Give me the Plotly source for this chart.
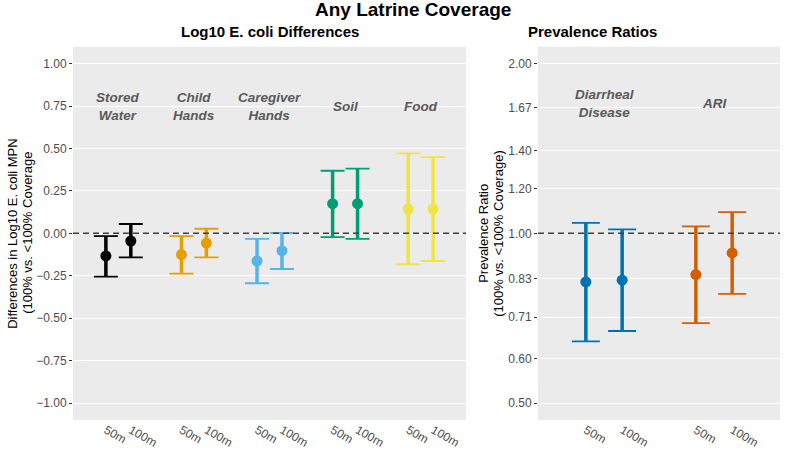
import numpy as np
import plotly.graph_objects as go

# ---------------- data ----------------
left_categories = ["Stored<br>Water", "Child<br>Hands", "Caregiver<br>Hands", "Soil", "Food"]
left_colors = ["#000000", "#E69F00", "#56B4E9", "#009E73", "#F0E442"]
left_est_50 = [-0.133, -0.125, -0.163, 0.175, 0.143]
left_lo_50 = [-0.255, -0.237, -0.294, -0.022, -0.182]
left_hi_50 = [-0.016, -0.016, -0.033, 0.369, 0.471]
left_est_100 = [-0.045, -0.057, -0.102, 0.175, 0.143]
left_lo_100 = [-0.141, -0.141, -0.210, -0.033, -0.163]
left_hi_100 = [0.055, 0.027, 0.002, 0.382, 0.449]

right_categories = ["Diarrheal<br>Disease", "ARI"]
right_colors = ["#0072B2", "#D55E00"]
right_est_50 = [0.820, 0.845]
right_lo_50 = [0.643, 0.693]
right_hi_50 = [1.044, 1.029]
right_est_100 = [0.826, 0.923]
right_lo_100 = [0.671, 0.781]
right_hi_100 = [1.016, 1.091]

distance_labels = ["50m", "100m"]
left_yticks = [-1.0, -0.75, -0.5, -0.25, 0.0, 0.25, 0.5, 0.75, 1.0]
right_yticks = [0.5, 0.6, 0.71, 0.83, 1.0, 1.2, 1.4, 1.67, 2.0]
right_yticktext = ["0.50", "0.60", "0.71", "0.83", "1.00", "1.20", "1.40", "1.67", "2.00"]
left_ref = 0.0
right_ref = 1.0
left_label_y = 0.75
right_label_y = 1.7

# ---------------- style ----------------
FONT = "Liberation Sans, Arial, sans-serif"
OFF = 0.165
W, H = 787, 470
PANEL_BG = "#EBEBEB"
TICK_COL = "#4D4D4D"

fig = go.Figure()


def add_group(xc, est50, lo50, hi50, est100, lo100, hi100, color, xa, ya, cap):
    xs = [xc - OFF, xc + OFF]
    ys = [est50, est100]
    plus = [hi50 - est50, hi100 - est100]
    minus = [est50 - lo50, est100 - lo100]
    # thick vertical segment
    fig.add_trace(go.Scatter(
        x=xs, y=ys, mode="markers", marker=dict(size=1, color=color, opacity=0),
        error_y=dict(type="data", symmetric=False, array=plus, arrayminus=minus,
                     color=color, thickness=3.5, width=0),
        xaxis=xa, yaxis=ya, showlegend=False, hoverinfo="skip"))
    # caps + points
    fig.add_trace(go.Scatter(
        x=xs, y=ys, mode="markers", marker=dict(size=11, color=color),
        error_y=dict(type="data", symmetric=False, array=plus, arrayminus=minus,
                     color=color, thickness=1.8, width=cap),
        xaxis=xa, yaxis=ya, showlegend=False))


for i in range(len(left_categories)):
    add_group(i + 1, left_est_50[i], left_lo_50[i], left_hi_50[i],
              left_est_100[i], left_lo_100[i], left_hi_100[i],
              left_colors[i], "x", "y", 12)

for i in range(len(right_categories)):
    add_group(i + 1, right_est_50[i], right_lo_50[i], right_hi_50[i],
              right_est_100[i], right_lo_100[i], right_hi_100[i],
              right_colors[i], "x2", "y2", 14)

left_tickvals, left_ticktext = [], []
for i in range(len(left_categories)):
    left_tickvals += [i + 1 - OFF, i + 1 + OFF]
    left_ticktext += distance_labels
right_tickvals, right_ticktext = [], []
for i in range(len(right_categories)):
    right_tickvals += [i + 1 - OFF, i + 1 + OFF]
    right_ticktext += distance_labels

ydom = [(H - 420) / H, (H - 46.7) / H]
common_x = dict(showgrid=False, zeroline=False, ticks="", tickangle=30,
                tickfont=dict(family=FONT, size=12, color=TICK_COL), showline=False)
common_y = dict(showgrid=True, gridcolor="white", gridwidth=1.1, zeroline=False,
                ticks="outside", ticklen=3, tickcolor="#333333", tickwidth=1,
                tickfont=dict(family=FONT, size=12, color=TICK_COL), showline=False)

fig.update_layout(
    width=W, height=H,
    margin=dict(l=0, r=0, t=0, b=0),
    paper_bgcolor="white", plot_bgcolor=PANEL_BG,
    xaxis=dict(domain=[73 / W, 466 / W], range=[0.4, len(left_categories) + 0.6],
               tickvals=left_tickvals, ticktext=left_ticktext, anchor="y", **common_x),
    yaxis=dict(domain=ydom, range=[-1.1, 1.1], tickvals=left_yticks,
               ticktext=[f"{v:.2f}".replace("-", "\u2212") for v in left_yticks],
               anchor="x", **common_y),
    xaxis2=dict(domain=[538 / W, 780 / W], range=[0.4, len(right_categories) + 0.6],
                tickvals=right_tickvals, ticktext=right_ticktext, anchor="y2", **common_x),
    yaxis2=dict(domain=ydom, type="log", range=[np.log10(0.5) * 1.1, np.log10(2.0) * 1.1],
                tickvals=right_yticks, ticktext=right_yticktext, anchor="x2", **common_y),
    showlegend=False,
)

# reference lines
fig.add_shape(type="line", xref="x domain", yref="y", x0=0, x1=1, y0=left_ref, y1=left_ref,
              line=dict(color="#404040", width=1.5, dash="6px,4px"))
fig.add_shape(type="line", xref="x2 domain", yref="y2", x0=0, x1=1, y0=right_ref, y1=right_ref,
              line=dict(color="#404040", width=1.5, dash="6px,4px"))

# in-panel category labels
lab_font = dict(family=FONT, size=13.5, color="#595959")
for i, c in enumerate(left_categories):
    fig.add_annotation(x=i + 1, y=left_label_y, xref="x", yref="y", text=f"<b><i>{c}</i></b>",
                       showarrow=False, font=lab_font, align="center")
for i, c in enumerate(right_categories):
    fig.add_annotation(x=i + 1, y=np.log10(right_label_y), xref="x2", yref="y2",
                       text=f"<b><i>{c}</i></b>", showarrow=False, font=lab_font, align="center")

# titles
fig.add_annotation(x=413 / W, y=1 - 9.5 / H, xref="paper", yref="paper",
                   text="<b>Any Latrine Coverage</b>", showarrow=False,
                   font=dict(family=FONT, size=19, color="black"), yanchor="middle")
fig.add_annotation(x=(73 + 466) / 2 / W, y=1 - 32 / H, xref="paper", yref="paper",
                   text="<b>Log10 E. coli Differences</b>", showarrow=False,
                   font=dict(family=FONT, size=15, color="black"), yanchor="middle")
fig.add_annotation(x=(538 + 780) / 2 / W, y=1 - 32 / H, xref="paper", yref="paper",
                   text="<b>Prevalence Ratios</b>", showarrow=False,
                   font=dict(family=FONT, size=15, color="black"), yanchor="middle")

# y-axis titles
ymid = (ydom[0] + ydom[1]) / 2
ax_font = dict(family=FONT, size=13, color="black")
for xp, t in [(12.5, "Differences in Log10 E. coli MPN"), (27.5, "(100% vs. <100% Coverage"),
              (483.5, "Prevalence Ratio"), (498.5, "(100% vs. <100% Coverage)")]:
    fig.add_annotation(x=xp / W, y=ymid, xref="paper", yref="paper", text=t, textangle=-90,
                       showarrow=False, font=ax_font, xanchor="center", yanchor="middle")

fig.write_html("out.html", config={"displayModeBar": False},
               post_script="document.body.style.margin='0';document.body.style.overflow='hidden';")
